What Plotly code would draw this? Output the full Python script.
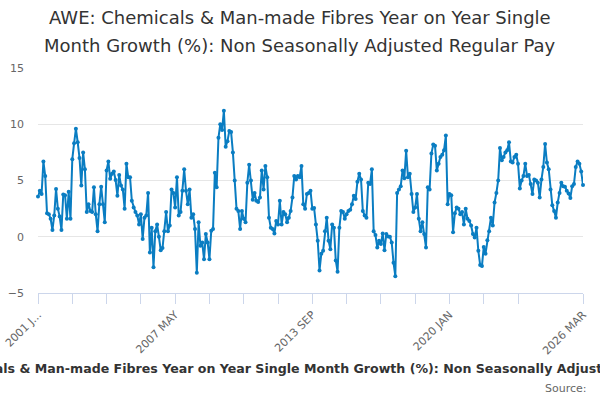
import plotly.graph_objects as go

MONTHS = ["JAN", "FEB", "MAR", "APR", "MAY", "JUN", "JUL", "AUG", "SEP", "OCT", "NOV", "DEC"]
start_year = 2001
n_points = 303  # 2001 JAN .. 2026 MAR
categories = [f"{start_year + i // 12} {MONTHS[i % 12]}" for i in range(n_points)]

seg_2001_2005 = [3.57, 4.1, 3.8, 6.7, 5.4, 2.1, 2.0, 1.6, 0.6, 1.9,
                 4.25, 2.5, 1.8, 0.6, 3.75, 3.7, 1.6, 4.0, 1.6, 6.9,
                 8.3, 9.6, 8.4, 7.0, 4.55, 7.5, 6.0, 2.2, 2.9, 2.3,
                 2.2, 4.4, 2.0, 0.5, 2.9, 4.45, 2.9, 1.3, 5.9, 6.7,
                 5.15, 5.6, 5.8, 5.05, 3.65, 5.5, 4.55, 4.2, 2.5, 6.5, 5.3]
seg_2005_2009 = [5.3, 3.2, 2.6, 2.2, 1.9, 1.1, 2.0, -0.2, 1.7, 1.9,
                 3.9, -1.4, 0.8, -2.7, 0.5, 1.1, 0.0, -1.2, -1.0, 0.5,
                 2.2, 0.5, 1.0, 4.2, 3.9, 2.6, 5.3, 1.9, 2.2, 4.1,
                 6.0, 4.1, 2.9, 4.2, 1.7, 2.0, 0.7, -3.2, 1.3, -0.8,
                 -0.5, -2.0, 0.24, -0.5, -2.0, 0.53, 0.7]
seg_2009_2013 = [5.7, 4.4, 8.8, 10.0, 9.5, 11.2, 8.0, 8.5, 9.4, 9.3,
                 7.5, 5.0, 2.5, 2.3, 0.7, 2.3, 1.6, 1.3, 4.8, 6.4,
                 5.0, 3.3, 3.9, 3.2, 3.1, 3.5, 5.9, 4.2, 6.3, 5.3,
                 1.7, 0.8, 0.7, 0.3, 1.4, 1.1, 3.2, 1.1, 2.2, 2.0,
                 1.3, 1.7, 2.3, 3.5, 5.4, 5.1, 5.4, 5.3, 6.3, 2.9, 2.5]
seg_2013_2017 = [3.8, 3.9, 4.1, 2.5, 2.55, 1.1, -0.35, -3.0, -1.5, -1.25,
                 0.5, 1.7, -0.35, -1.1, 1.1, 0.8, -2.1, -3.1, 0.8, 2.3,
                 2.2, 1.6, 2.0, 2.3, 2.4, 2.9, 3.65, 3.35, 4.9, 5.6,
                 5.1, 2.3, 1.9, 1.7, 4.8, 4.7, 6.0, 0.5, 0.15, -0.95,
                 -0.35, -0.65, 0.3, -1.2, 0.24, 0.03, 0.0, -0.5, -2.3, -3.5]
seg_2017_2021 = [3.9, 4.2, 4.5, 5.9, 5.2, 7.65, 5.3, 5.6, 3.8, 2.2,
                 2.6, 3.8, 1.6, 0.5, 1.3, 0.24, -0.95, 4.4, 4.2, 7.4,
                 8.2, 8.1, 5.9, 6.5, 7.1, 7.3, 7.7, 9.0, 2.9, 3.8,
                 3.7, 0.4, 2.1, 2.6, 2.5, 2.0, 2.2, 1.1, 2.5, 1.6,
                 1.4, 1.0, 0.24, -0.06, 0.8, -1.25, -2.5, -2.6]
seg_2021_2026 = [-0.9, -1.5, -0.3, 0.5, 1.7, 1.0, 3.05, 3.9, 5.0, 7.9,
                 6.8, 7.1, 7.5, 7.7, 8.4, 6.7, 6.6, 7.1, 7.3, 6.5,
                 4.3, 5.0, 5.4, 6.5, 5.4, 5.5, 4.7, 3.8, 5.1, 5.0,
                 4.8, 3.5, 5.1, 6.2, 8.25, 6.6, 6.0, 4.2, 2.8, 2.3,
                 1.7, 3.05, 3.9, 4.8, 4.5, 4.45, 4.1, 3.85, 3.45, 4.5,
                 4.7, 6.2, 6.7, 6.5, 5.8, 4.6]

values = (seg_2001_2005 + seg_2005_2009 + seg_2009_2013 +
          seg_2013_2017 + seg_2017_2021 + seg_2021_2026)

tick_step = 19
tick_positions = list(range(0, n_points - tick_step, tick_step)) + [n_points - 1]
tick_labels = ["2001 J...", "2007 MAY", "2013 SEP", "2020 JAN", "2026 MAR"]
labelled = {0: tick_labels[0], 76: tick_labels[1], 152: tick_labels[2], 228: tick_labels[3], 302: tick_labels[4]}
tickvals = [categories[i] for i in tick_positions]
ticktext = [labelled.get(i, "") for i in tick_positions]

title_line1 = "AWE: Chemicals & Man-made Fibres Year on Year Single"
title_line2 = "Month Growth (%): Non Seasonally Adjusted Regular Pay"
series_name = "AWE: Chemicals & Man-made Fibres Year on Year Single Month Growth (%): Non Seasonally Adjusted Regular Pay"

fig = go.Figure()
fig.add_trace(go.Scatter(
    x=categories, y=values, mode="lines+markers",
    line=dict(color="#0a7dc2", width=2),
    marker=dict(color="#0a7dc2", size=4),
    cliponaxis=False, showlegend=False,
))

FONT = "DejaVu Sans, Verdana, sans-serif"
W, H = 600, 400
L, R, T, B = 38, 17, 68, 107
pw, ph = W - L - R, H - T - B


def px_x(x):
    return (x - L) / pw


def px_y(y):
    return (H - B - y) / ph


fig.update_layout(
    width=W, height=H,
    margin=dict(l=L, r=R, t=T, b=B, autoexpand=False),
    paper_bgcolor="white", plot_bgcolor="white",
    font=dict(family=FONT, color="#666666", size=11),
    xaxis=dict(
        type="category", range=[0, n_points - 1], automargin=False,
        tickmode="array", tickvals=tickvals, ticktext=ticktext,
        tickangle=-45, ticks="outside", ticklen=10, tickcolor="#ccd6eb",
        showline=True, linecolor="#ccd6eb", linewidth=1,
        showgrid=False, zeroline=False,
        tickfont=dict(size=11, color="#666666"),
    ),
    yaxis=dict(
        range=[-5, 15], tickvals=[-5, 0, 5, 10, 15], automargin=False,
        showgrid=True, gridcolor="#e6e6e6", gridwidth=1,
        zeroline=False, showline=False, ticks="",
        ticklabelstandoff=13,
        tickfont=dict(size=11, color="#666666"),
    ),
    annotations=[
        dict(text=title_line1, xref="paper", yref="paper", x=px_x(300), y=px_y(17),
             xanchor="center", yanchor="middle", showarrow=False,
             font=dict(family=FONT, size=18, color="#333333")),
        dict(text=title_line2, xref="paper", yref="paper", x=px_x(300), y=px_y(45),
             xanchor="center", yanchor="middle", showarrow=False,
             font=dict(family=FONT, size=18, color="#333333")),
        dict(text=series_name, xref="paper", yref="paper", x=px_x(305), y=px_y(368),
             xanchor="center", yanchor="middle", showarrow=False,
             font=dict(family=FONT, size=12.6, color="#333333", weight="bold")),
        dict(text="Source:", xref="paper", yref="paper", x=px_x(589), y=px_y(388),
             xanchor="right", yanchor="middle", showarrow=False,
             font=dict(family=FONT, size=11, color="#666666")),
    ],
)

fig.write_html("out.html", config={"displayModeBar": False},
               post_script="document.body.style.margin='0';")
